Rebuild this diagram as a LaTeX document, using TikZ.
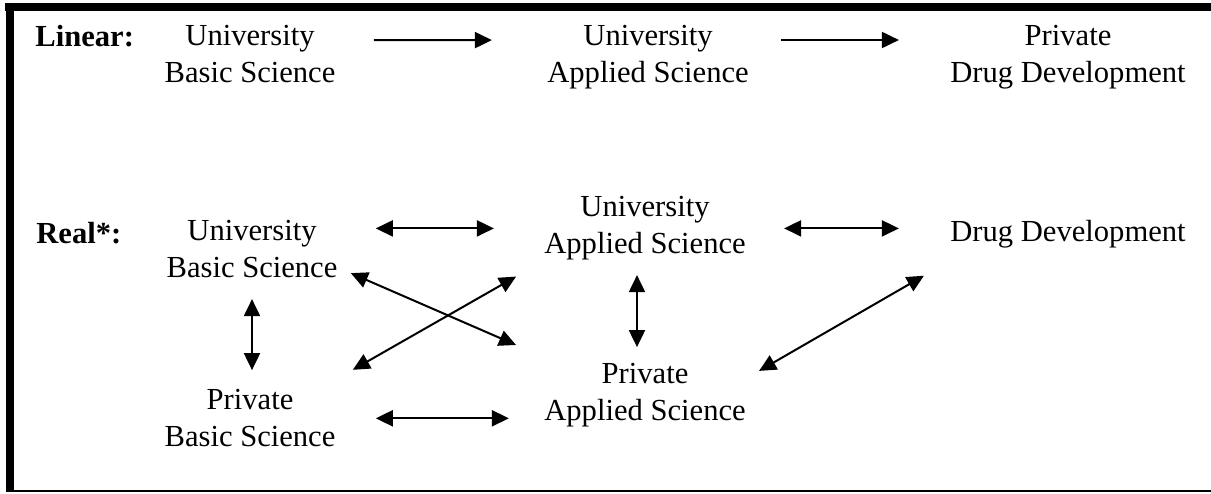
\documentclass[tikz,border=0pt]{standalone}
\usepackage{fontspec}
\setmainfont{Liberation Serif}
\usetikzlibrary{arrows.meta}
\begin{document}
\begin{tikzpicture}[x=0.5pt,y=-0.5pt,
  stage/.style={align=center, inner sep=0pt, font=\fontsize{15.3}{18.5}\selectfont},
  rowlabel/.style={anchor=base west, inner sep=0pt, font=\fontsize{15.3}{18.5}\selectfont\bfseries},
  oneway/.style={-{Triangle[length=8.5pt,width=8pt]}, line width=1pt},
  twoway/.style={{Triangle[length=8.5pt,width=8pt]}-{Triangle[length=8.5pt,width=8pt]}, line width=1pt}]
\useasboundingbox (0,0) rectangle (1211,493);
\path[draw,line width=4pt] (5,7) -- (1211,7);
\path[draw,line width=4pt] (9.5,3) -- (9.5,491.5);
\path[draw,line width=1pt] (9.5,490.5) -- (1211,490.5);
\node[rowlabel] (linear) at (35,46) {Linear:};
\node[stage] (ltbs) at (250,54.3) {University\\Basic Science};
\node[stage] (ltas) at (648,57.4) {University\\Applied Science};
\node[stage] (ltpd) at (1068,57.4) {Private\\Drug Development};
\node[rowlabel] (real) at (36,243) {Real*:};
\node[stage] (rubs) at (252,249.3) {University\\Basic Science};
\node[stage] (ruas) at (645,228.4) {University\\Applied Science};
\node[stage] (rdd) at (1068,234) {Drug Development};
\node[stage] (rpbs) at (250,418.3) {Private\\Basic Science};
\node[stage] (rpas) at (645,395.4) {Private\\Applied Science};
\path[draw,oneway,shorten <=19pt,shorten >=27.5pt] ([yshift=7pt]ltbs.east) -- ([yshift=8.7pt]ltas.west);
\path[draw,oneway,shorten <=16pt,shorten >=25.5pt] ([yshift=8.7pt]ltas.east) -- ([yshift=8.7pt]ltpd.west);
\path[draw,twoway,shorten <=19pt,shorten >=25pt] (rubs.east |- ruas.west) -- (ruas.west);
\path[draw,twoway,shorten <=19pt,shorten >=25.5pt] (ruas.east) -- (rdd.west |- ruas.east);
\path[draw,twoway,shorten <=10.3pt,shorten >=9.5pt] (rubs.south) -- (rubs.south |- rpbs.north);
\path[draw,twoway,shorten <=7.2pt,shorten >=8pt] ([xshift=-4pt]ruas.south) -- ([xshift=-4pt]rpas.north);
\path[draw,twoway,shorten <=7.1pt,shorten >=15.2pt] ([yshift=5.5pt]rubs.south east) -- ([yshift=3pt]rpas.north west);
\path[draw,twoway,shorten <=9.8pt,shorten >=16pt] ([yshift=4.8pt]rpbs.north east) -- (ruas.south west);
\path[draw,twoway,shorten <=20pt,shorten >=17.5pt] (rpbs.east) -- (rpas.west |- rpbs.east);
\path[draw,twoway,shorten <=7.5pt,shorten >=15pt] ([yshift=8.5pt]rpas.east) -- ([yshift=-6.2pt]rdd.south west);
\end{tikzpicture}
\end{document}
